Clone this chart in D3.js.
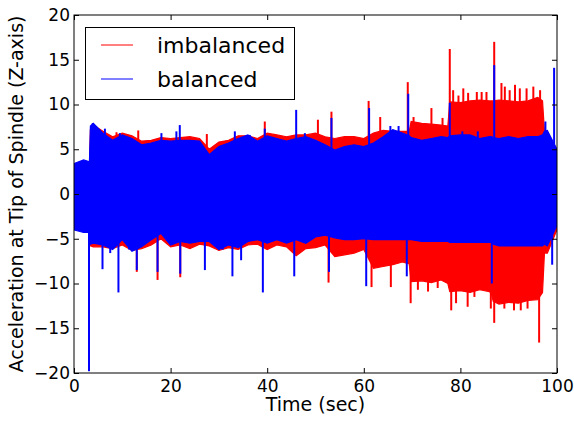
<!DOCTYPE html>
<html>
<head>
<meta charset="utf-8">
<script src="https://cdnjs.cloudflare.com/ajax/libs/d3/7.8.5/d3.min.js"></script>
<style>
body { margin: 0; background: #fff; }
svg { font-family: "DejaVu Sans", sans-serif; display: block; }
</style>
</head>
<body>
<div class="canvas"></div>
<script>
// data: envelope of each signal (sec, m/s^2) plus the spikes that stick out of it
const time = [0, 2, 3.2, 3.4, 4, 6, 8, 10, 12, 14, 16, 18, 20, 22, 24, 26, 28, 30, 32, 34, 36, 38, 40, 42, 44, 46, 48, 50, 52, 54, 56, 58, 60, 62, 64, 66, 68,
    69.4, 69.8, 72, 74, 76, 77.4, 77.8, 80, 82, 84, 86, 86.4, 86.8, 88, 90, 92, 94, 96, 97, 97.4, 98, 100];

const balancedMax = [3.4, 3.8, 3.6, 7.6, 7.9, 6.8, 6.0, 6.6, 6.2, 5.5, 5.7, 6.0, 5.9, 6.0, 6.0, 5.9, 4.4, 5.3, 5.7, 6.2, 6.6, 5.9, 6.5, 6.2, 5.9, 6.2, 6.4, 6.0, 5.5, 4.9, 5.3, 5.5, 5.3, 5.7, 6.4, 7.2, 6.8,
    6.5, 6.3, 6.0, 6.2, 6.4, 6.3, 6.5, 6.6, 6.6, 6.2, 6.4, 6.4, 6.3, 6.2, 6.4, 6.2, 6.4, 6.4, 6.6, 7.0, 7.1, 5.0];
const balancedMin = [-4.0, -4.3, -4.3, -5.6, -5.5, -5.7, -6.2, -5.1, -6.4, -5.9, -5.1, -4.4, -5.7, -5.3, -5.5, -5.3, -5.3, -6.2, -5.7, -6.0, -5.3, -5.1, -5.5, -5.1, -5.5, -5.1, -5.5, -4.8, -4.6, -4.9, -5.1, -5.1, -5.0, -5.1, -5.1, -5.1, -5.1,
    -5.1, -5.1, -5.3, -5.3, -5.3, -5.3, -5.4, -5.4, -5.4, -5.4, -5.4, -5.4, -5.6, -5.8, -5.8, -5.8, -5.8, -5.8, -5.8, -5.6, -5.8, -3.5];

const imbalancedMax = [3.2, 3.5, 3.4, 7.2, 7.7, 7.0, 6.4, 6.8, 6.5, 5.9, 6.0, 6.3, 6.2, 6.3, 6.4, 6.2, 5.0, 5.8, 6.0, 6.5, 6.5, 6.2, 6.8, 6.6, 6.4, 6.6, 6.6, 6.8, 6.4, 6.2, 6.4, 6.4, 6.2, 6.8, 7.1, 7.0, 7.0,
    7.0, 8.1, 7.9, 7.8, 7.7, 7.6, 10.3, 10.2, 10.4, 10.5, 10.4, 10.4, 10.4, 10.5, 10.4, 10.3, 10.4, 10.8, 10.4, 7.0, 7.0, 4.5];
const imbalancedMin = [-3.8, -4.0, -4.0, -5.8, -5.9, -5.9, -6.1, -5.7, -6.3, -6.1, -5.7, -5.0, -5.9, -5.7, -6.1, -5.6, -5.8, -6.3, -6.0, -6.2, -5.7, -5.6, -6.2, -5.7, -5.9, -6.9, -6.1, -6.0, -5.7, -7.0, -6.8, -6.6, -6.2, -8.3, -8.1, -7.9, -7.6,
    -7.8, -9.8, -9.7, -9.9, -9.6, -10.0, -10.9, -10.8, -11.0, -10.7, -10.9, -11.1, -12.0, -12.3, -12.1, -12.2, -11.9, -11.8, -11.0, -6.6, -6.6, -4.0];

const balancedSpikes = [[3.1, -19.8], [3.9, 7.9], [4.7, 7.5], [6.4, 7.3], [9.5, 6.8], [5.9, -8.4], [7.5, -6.6], [9.2, -11.0], [11.4, -6.2], [13.0, -8.5],
    [17.3, -8.7], [18.1, 6.8], [21.2, 7.0], [21.9, 7.7], [22.0, -8.9], [27.1, -8.5], [30.8, -6.2], [33.3, 7.0], [32.8, -9.2], [34.6, -7.4],
    [36.4, 6.6], [39.5, 7.3], [39.1, -11.0], [46.0, 9.4], [45.6, -9.2], [47.8, 6.8], [53.3, 8.5], [52.8, -8.7], [61.1, 9.6], [60.5, -10.3],
    [65.5, 7.6], [67.2, 7.6], [69.2, 11.2], [68.9, -9.2], [77.8, 10.2], [80.4, 7.0], [83.6, 7.0], [87.0, 14.4], [86.5, -10.0], [97.6, 8.1],
    [99.4, 14.1], [99.0, -7.9]];
const imbalancedSpikes = [[3.1, -12.0], [3.9, 7.9], [8.8, 6.9], [13.3, 7.1], [13.0, -8.7], [17.3, -9.6], [22.0, -9.3], [27.5, 6.7], [39.5, 8.1],
    [50.5, 8.3], [53.3, 9.2], [52.7, -9.9], [61.0, 10.4], [61.6, -10.4], [63.4, 8.6], [65.6, -10.4], [69.1, 12.5], [69.7, -12.2], [70.3, 8.6],
    [71.2, -10.7], [73.3, -10.9], [74.0, 9.6], [75.3, -10.5], [76.3, 8.5], [77.8, 16.2], [78.1, -13.0], [78.5, 11.6], [79.1, -12.2], [79.6, 11.0],
    [80.6, 11.8], [81.5, -12.6], [81.6, 11.3], [82.9, -11.5], [83.4, 11.4], [84.4, 11.4], [85.4, 11.4], [86.3, -12.8], [87.0, 17.0], [87.0, -14.4],
    [88.5, 12.4], [89.1, -12.8], [89.2, 12.0], [90.2, 11.6], [91.1, -13.0], [91.3, 12.2], [92.3, 11.8], [92.5, -13.0], [93.7, 11.8], [93.9, -12.8],
    [95.1, 12.0], [96.3, -16.6], [96.5, 11.6]];

const xTicks = [0, 20, 40, 60, 80, 100];
const yTicks = [-20, -15, -10, -5, 0, 5, 10, 15, 20];

//1. dimensions
const margin = {top: 15, right: 17, bottom: 51, left: 74};
const graphWidth = 574 - margin.left - margin.right;
const graphHeight = 424 - margin.top - margin.bottom;

//2. svg + group
const canvas = d3.select('.canvas')
    .append('svg')
    .attr('width', 574)
    .attr('height', 424);

const graph = canvas.append('g')
    .attr('transform', `translate(${margin.left},${margin.top})`);

const xScale = d3.scaleLinear().domain([0, 100]).range([0, graphWidth]);
const yScale = d3.scaleLinear().domain([-20, 20]).range([graphHeight, 0]);

graph.append('clipPath').attr('id', 'clip')
    .append('rect').attr('width', graphWidth).attr('height', graphHeight);

const plot = graph.append('g').attr('clip-path', 'url(#clip)');

//3. signals - imbalanced underneath, balanced on top
const drawSignal = (hi, lo, spikes, color) => {
    const area = d3.area()
        .x((d, i) => xScale(time[i]))
        .y0((d, i) => yScale(lo[i]))
        .y1((d, i) => yScale(hi[i]));

    plot.append('path')
        .datum(time)
        .attr('d', area)
        .attr('fill', color)
        .attr('stroke', color)
        .attr('stroke-width', 1.2);

    plot.selectAll(null)
        .data(spikes)
        .enter()
        .append('line')
            .attr('x1', d => xScale(d[0]))
            .attr('x2', d => xScale(d[0]))
            .attr('y1', yScale(0))
            .attr('y2', d => yScale(d[1]))
            .attr('stroke', color)
            .attr('stroke-width', 2);
};

drawSignal(imbalancedMax, imbalancedMin, imbalancedSpikes, '#ff0000');
drawSignal(balancedMax, balancedMin, balancedSpikes, '#0000ff');

//4. axes - ticks point inwards on all four sides
const styleAxis = g => {
    g.select('.domain').remove();
    g.selectAll('line').attr('stroke', '#000');
    g.selectAll('text').attr('font-size', 17).attr('fill', '#000').attr('font-family', '"DejaVu Sans", sans-serif');
};

graph.append('g')
    .attr('transform', `translate(0, ${graphHeight})`)
    .call(d3.axisBottom(xScale).tickValues(xTicks).tickSizeInner(-5).tickSizeOuter(0).tickPadding(7))
    .call(styleAxis);

graph.append('g')
    .call(d3.axisLeft(yScale).tickValues(yTicks).tickSizeInner(-5).tickSizeOuter(0).tickPadding(4))
    .call(styleAxis);

graph.append('g')
    .call(d3.axisTop(xScale).tickValues(xTicks).tickSizeInner(-5).tickSizeOuter(0).tickFormat(''))
    .call(styleAxis);

graph.append('g')
    .attr('transform', `translate(${graphWidth}, 0)`)
    .call(d3.axisRight(yScale).tickValues(yTicks).tickSizeInner(-5).tickSizeOuter(0).tickFormat(''))
    .call(styleAxis);

graph.append('rect')
    .attr('width', graphWidth)
    .attr('height', graphHeight)
    .attr('fill', 'none')
    .attr('stroke', '#000')
    .attr('stroke-width', 1);

//5. axis labels
canvas.append('text')
    .attr('x', margin.left + graphWidth / 2)
    .attr('y', 411)
    .attr('text-anchor', 'middle')
    .attr('font-size', 19)
    .text('Time (sec)');

canvas.append('text')
    .attr('transform', `translate(23, ${margin.top + graphHeight / 2}) rotate(-90)`)
    .attr('text-anchor', 'middle')
    .attr('font-size', 19)
    .text('Acceleration at Tip of Spindle (Z-axis)');

//6. legend
const legendItems = [{name: 'imbalanced', color: '#ff0000'}, {name: 'balanced', color: '#0000ff'}];

const legend = canvas.append('g');

legend.append('rect')
    .attr('x', 85.5)
    .attr('y', 27.5)
    .attr('width', 209)
    .attr('height', 72)
    .attr('fill', '#fff')
    .attr('stroke', '#000');

const rows = legend.selectAll('g')
    .data(legendItems)
    .enter()
    .append('g')
        .attr('transform', (d, i) => `translate(0, ${45 + i * 34})`);

rows.append('line')
    .attr('x1', 101)
    .attr('x2', 133)
    .attr('stroke', d => d.color)
    .attr('stroke-width', 1);

rows.append('text')
    .attr('x', 157)
    .attr('y', 8)
    .attr('font-size', 22)
    .text(d => d.name);
</script>
</body>
</html>
